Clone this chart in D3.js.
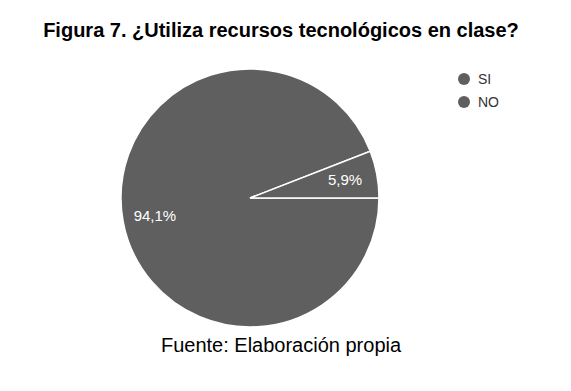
<!DOCTYPE html>
<html>
<head>
<meta charset="utf-8">
<script src="https://cdn.jsdelivr.net/npm/d3@7"></script>
<style>
  body { margin: 0; background: #fff; }
  svg { display: block; font-family: "Liberation Sans", Arial, sans-serif; }
</style>
</head>
<body>
<div id="chart"></div>
<script>
// chart data
const labels = ["SI", "NO"];
const values = [94.1, 5.9];
const valueLabels = ["94,1%", "5,9%"];

const width = 571, height = 391;
const cx = 250, cy = 198, radius = 129;
const fill = "#5f5f5f";

const svg = d3.select("#chart").append("svg")
    .attr("width", width)
    .attr("height", height);

svg.append("text")
    .attr("x", 281).attr("y", 37)
    .attr("text-anchor", "middle")
    .attr("font-weight", "bold")
    .attr("font-size", 20)
    .attr("fill", "#000")
    .text("Figura 7. ¿Utiliza recursos tecnológicos en clase?");

const data = labels.map((l, i) => ({label: l, value: values[i], text: valueLabels[i]}));

// starts at 3 o'clock, clockwise
const pie = d3.pie()
    .value(d => d.value)
    .sort(null)
    .startAngle(Math.PI / 2)
    .endAngle(Math.PI / 2 + 2 * Math.PI);

const arc = d3.arc().innerRadius(0).outerRadius(radius);
const labelArc = d3.arc().innerRadius(radius * 0.75).outerRadius(radius * 0.75);

const g = svg.append("g").attr("transform", `translate(${cx},${cy})`);
const arcs = pie(data);

g.selectAll("path")
  .data(arcs)
  .join("path")
    .attr("d", arc)
    .attr("fill", fill)
    .attr("stroke", "#fff")
    .attr("stroke-width", 1.5);

g.selectAll("text")
  .data(arcs)
  .join("text")
    .attr("transform", d => `translate(${labelArc.centroid(d)})`)
    .attr("text-anchor", "middle")
    .attr("dy", "0.35em")
    .attr("font-size", 15)
    .attr("fill", "#fff")
    .text(d => d.data.text);

// legend
const legend = svg.append("g").attr("transform", "translate(464,79)");
const item = legend.selectAll("g")
  .data(labels)
  .join("g")
    .attr("transform", (d, i) => `translate(0,${i * 23})`);
item.append("circle").attr("r", 6).attr("fill", fill);
item.append("text")
    .attr("x", 14).attr("dy", "0.35em")
    .attr("font-size", 14)
    .attr("fill", "#333")
    .text(d => d);

svg.append("text")
    .attr("x", 281).attr("y", 352)
    .attr("text-anchor", "middle")
    .attr("font-size", 20)
    .attr("fill", "#000")
    .text("Fuente: Elaboración propia");
</script>
</body>
</html>
